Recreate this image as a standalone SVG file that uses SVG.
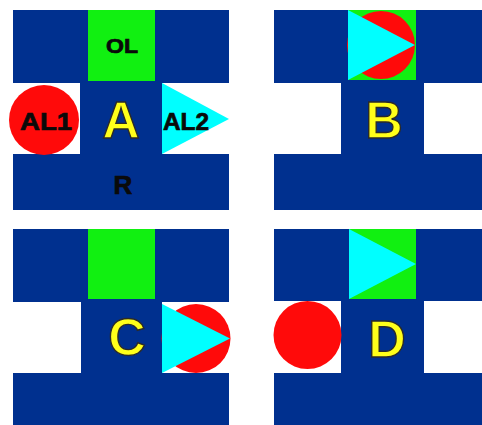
<svg xmlns="http://www.w3.org/2000/svg" width="482" height="425" viewBox="0 0 482 425">
<style>
.blue{fill:#00308f}
.green{fill:#11f011}
.red{fill:#ff0a0a}
.cyan{fill:#00ffff}
.big{font-family:"Liberation Sans",Arial,sans-serif;font-weight:bold;font-size:52px;fill:#ffff1a;stroke:#2a2a2a;stroke-width:1.4;text-anchor:middle}
.lab{font-family:"Liberation Sans",Arial,sans-serif;font-weight:bold;fill:#0a0a0a;stroke:#0a0a0a;stroke-width:0.7;text-anchor:middle}
</style>
<rect width="482" height="425" fill="#fff"/>
<g id="panelA">
<path class="blue" d="M13,10H229V83H162V154H229V210H13V154H80V83H13Z"/>
<rect class="green" x="88" y="10" width="67" height="71"/>
<circle class="red" cx="44" cy="120" r="35"/>
<polygon class="cyan" points="162,83 162,154 229,119"/>
<text class="lab" x="122" y="53" font-size="20" textLength="32" lengthAdjust="spacingAndGlyphs">OL</text>
<text class="lab" x="46" y="130" font-size="24" textLength="52" lengthAdjust="spacingAndGlyphs">AL1</text>
<text class="lab" x="186" y="129.5" font-size="24" textLength="46" lengthAdjust="spacingAndGlyphs">AL2</text>
<text class="lab" x="123" y="194" font-size="26">R</text>
<text class="big" x="121" y="138">A</text>
</g>
<g id="panelB">
<path class="blue" d="M274,10H482V83H424V154H482V210H274V154H341V83H274Z"/>
<rect class="green" x="348" y="10" width="68" height="70"/>
<circle class="red" cx="381" cy="45" r="34"/>
<polygon class="cyan" points="348,10 348,80 415,45"/>
<text class="big" x="384" y="138">B</text>
</g>
<g id="panelC">
<path class="blue" d="M13,229H229V302H162V373H229V425H13V373H81V302H13Z"/>
<rect class="green" x="88" y="229" width="67" height="70"/>
<circle class="red" cx="196" cy="338.5" r="34.5"/>
<polygon class="cyan" points="162,304 162,373 230,338.5"/>
<text class="big" x="127" y="355">C</text>
</g>
<g id="panelD">
<path class="blue" d="M274,229H482V301H424V373H482V425H274V373H341V301H274Z"/>
<rect class="green" x="349" y="229" width="67" height="70"/>
<polygon class="cyan" points="349,229 349,299 416,264"/>
<circle class="red" cx="307.5" cy="335" r="34"/>
<text class="big" x="387" y="357">D</text>
</g>
</svg>
